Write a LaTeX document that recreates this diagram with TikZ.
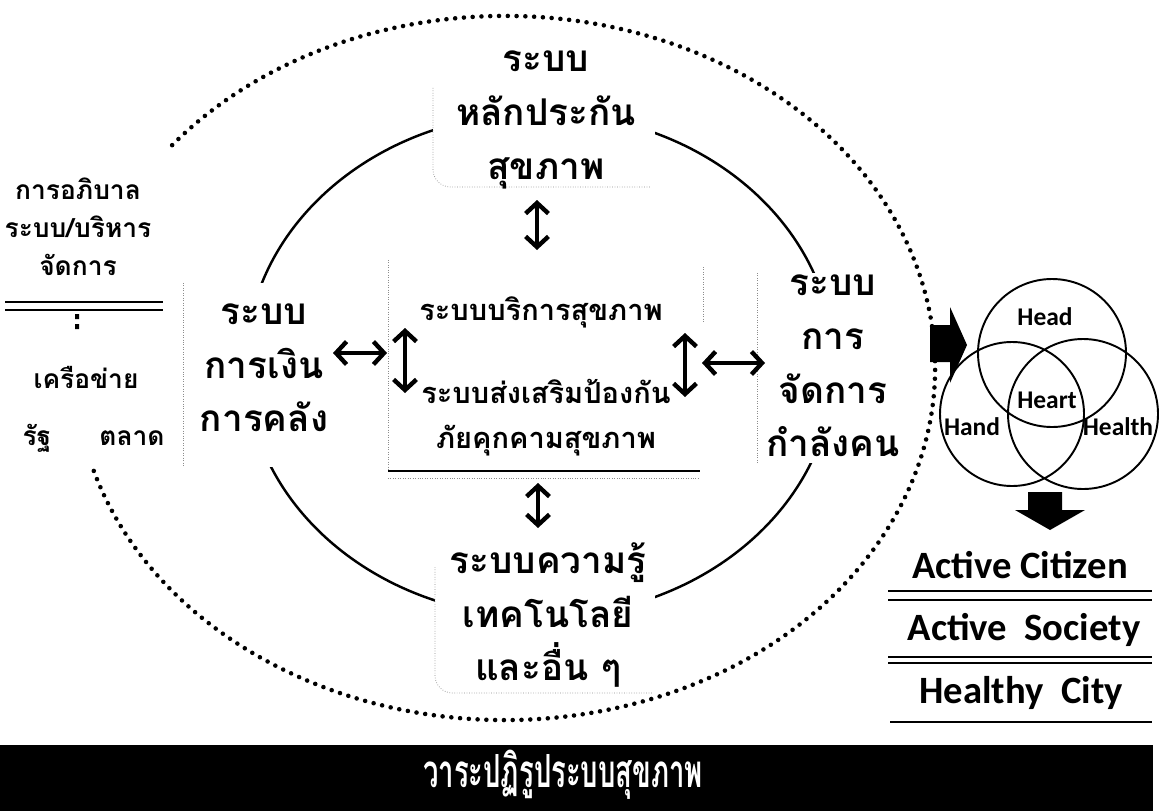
\documentclass[tikz,border=0pt]{standalone}
\usepackage{fontspec}
\setmainfont{Carlito}
\newfontfamily\thai[Script=Thai]{Loma}
\usetikzlibrary{arrows.meta}

\begin{document}
\begin{tikzpicture}[x=0.02cm,y=-0.02cm,
  big/.style={font=\thai\bfseries\fontsize{21}{30.5}\selectfont, align=center, inner sep=0pt},
  mid/.style={font=\thai\bfseries\fontsize{16.5}{25.5}\selectfont, align=center, inner sep=0pt},
  lft/.style={font=\thai\bfseries\fontsize{15}{21.5}\selectfont, align=center, inner sep=0pt},
  venn/.style={font=\bfseries\fontsize{14.5}{16}\selectfont, inner sep=0pt},
  act/.style={font=\bfseries\fontsize{22}{24}\selectfont, inner sep=0pt},
  wbox/.style={fill=white},
  faint/.style={draw=black!45, densely dotted, line width=.4pt},
  dbl/.style={{Straight Barb[length=6pt,width=13pt]}-{Straight Barb[length=6pt,width=13pt]}, line width=2.5pt}]
\useasboundingbox (0,0) rectangle (1162,811);

% inner ring and the white boxes over it
\draw[line width=1.4pt] (540,365) ellipse [x radius=294, y radius=252];
\fill[wbox] (433,45) rectangle (655,187);
\fill[wbox] (183,283) rectangle (360,467);
\fill[wbox] (757,273) rectangle (920,463);
\fill[wbox] (435,545) rectangle (655,693);
\fill[wbox] (388,260) rectangle (703,472);
\draw[faint, rounded corners=10] (433,88) |- (650,187);
\draw[faint, rounded corners=10] (435,567) |- (653,693);
\draw[faint] (388,260) -- (388,470) (703,267) -- (703,323) (183,283) -- (183,467) (757,273) -- (757,463) (388,478) -- (700,478);
\draw[line width=1pt] (388,471) -- (700,471);

% black arrow to the right, then the dotted ring
\fill (930,325) -- (950,325) -- (950,307) -- (967,345) -- (950,383) -- (950,362) -- (930,362) -- cycle;
\draw[line width=2.6pt, dash pattern=on 0pt off 5pt, line cap=round] (505,368) ++(163:430 and 352) arc [start angle=163, end angle=-142, x radius=430, y radius=352];

% texts of the systems
\node[big] (ins) at (546,120) {ระบบ\\หลักประกัน\\สุขภาพ};
\node[big] (fin) at (264,368) {ระบบ\\การเงิน\\การคลัง};
\node[big] (man) at (833,366) {ระบบ\\การ\\จัดการ\\กำลังคน};
\node[big] (kno) at (548,615) {ระบบความรู้\\เทคโนโลยี\\และอื่น ๆ};
\node[mid] (ser) at (541,312) {ระบบบริการสุขภาพ};
\node[mid] (pro) at (546,418) {ระบบส่งเสริมป้องกัน\\ภัยคุกคามสุขภาพ};

% left column
\node[lft] (gov) at (78,227) {การอภิบาล\\ระบบ/บริหาร\\จัดการ};
\draw[line width=.6pt] (5,302) -- (163,302) (5,310) -- (163,310);
\fill (75,314) rectangle (79,319) (75,324) rectangle (79,329);
\node[lft] (net) at (86,377) {เครือข่าย};
\node[lft] (sta) at (37,438) {รัฐ};
\node[lft] (mar) at (132,438) {ตลาด};

% double arrows
\coordinate (t1) at (537,200); \coordinate (t2) at (537,250);
\coordinate (b1) at (538,483); \coordinate (b2) at (538,528);
\coordinate (l1) at (405,328); \coordinate (l2) at (405,393);
\coordinate (r1) at (685,333); \coordinate (r2) at (685,397);
\coordinate (h1) at (333,353); \coordinate (h2) at (387,353);
\coordinate (h3) at (702,363); \coordinate (h4) at (765,363);
\draw[dbl] (t1) -- (t2);
\draw[dbl] (b1) -- (b2);
\draw[dbl] (l1) -- (l2);
\draw[dbl] (r1) -- (r2);
\draw[dbl] (h1) -- (h2);
\draw[dbl] (h3) -- (h4);

% three circles
\draw[line width=1.1pt] (1052,353) circle [radius=74] (1012,414) circle [radius=72] (1083,414) circle [radius=75];
\node[venn] (head) at (1045,317) {Head};
\node[venn] (heart) at (1047,400) {Heart};
\node[venn] (hand) at (972,427) {Hand};
\node[venn] (health) at (1118,427) {Health};
\fill (1028,492) -- (1062,492) -- (1062,510) -- (1085,510) -- (1050,530) -- (1015,510) -- (1028,510) -- cycle;

% outcomes
\node[act] (cit) at (1020,565) {Active Citizen};
\draw[line width=.6pt] (888,591) -- (1152,591);
\draw[line width=1.2pt] (888,600) -- (1152,600);
\node[act] (soc) at (1024,630) {Active\ \ Society};
\draw[line width=1pt] (888,657) -- (1152,657) (888,663) -- (1152,663);
\node[act] (cty) at (1021,693) {Healthy\ \ City};
\draw[line width=.8pt] (890,722) -- (1152,722);

% banner
\fill (0,745) rectangle (1153,811);
\node[white, font=\thai\bfseries\fontsize{26}{28}\selectfont, inner sep=0pt] (ban) at (563,775) {\scalebox{.6}[1]{วาระปฏิรูประบบสุขภาพ}};
\end{tikzpicture}
\end{document}
